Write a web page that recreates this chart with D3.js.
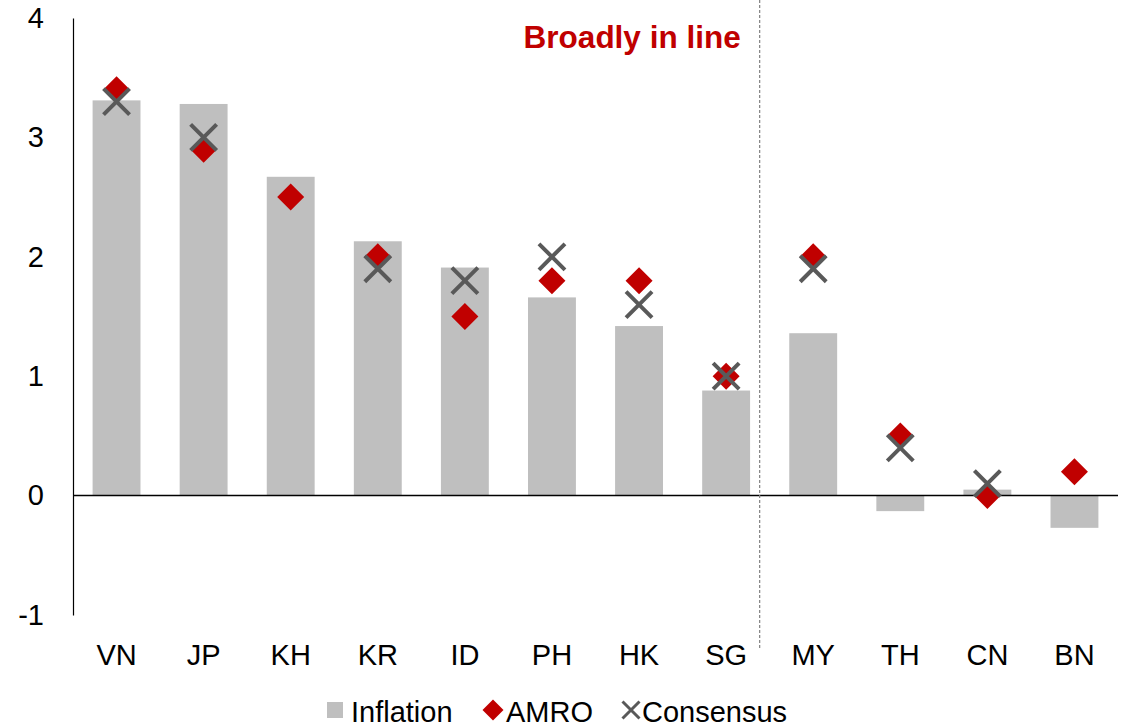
<!DOCTYPE html>
<html><head><meta charset="utf-8">
<script src="https://cdn.jsdelivr.net/npm/d3@7"></script>
<style>
html,body{margin:0;padding:0;background:#fff;}
svg{display:block;font-family:"Liberation Sans",Arial,sans-serif;}
</style></head>
<body><svg id="chart" width="1132" height="728"></svg>
<script>
const categories = ["VN","JP","KH","KR","ID","PH","HK","SG","MY","TH","CN","BN"];
const inflation  = [3.31, 3.28, 2.67, 2.13, 1.91, 1.66, 1.42, 0.88, 1.36, -0.13, 0.05, -0.27];
const amro       = [3.4, 2.9, 2.5, 2.0, 1.5, 1.8, 1.8, 1.0, 2.0, 0.5, 0.0, 0.2];
const consensus  = [3.3, 3.0, null, 1.9, 1.8, 2.0, 1.6, 1.0, 1.9, 0.4, 0.1, null];
const yTicks = [-1, 0, 1, 2, 3, 4];
const annotation = "Broadly in line";
const legendLabels = ["Inflation", "AMRO", "Consensus"];

const svg = d3.select("#chart");
const mLeft = 73, mRight = 1118, mTop = 18, mBottom = 615;
const x = d3.scaleBand().domain(categories).range([mLeft, mRight]).paddingInner(0.45).paddingOuter(0.225);
const y = d3.scaleLinear().domain([-1, 4]).range([mBottom, mTop]);

const grey = "#BFBFBF", red = "#C00000", dark = "#595959";

// bars
svg.append("g").selectAll("rect").data(categories).join("rect")
  .attr("x", d => x(d))
  .attr("width", x.bandwidth())
  .attr("y", (d,i) => y(Math.max(0, inflation[i])))
  .attr("height", (d,i) => Math.abs(y(inflation[i]) - y(0)))
  .attr("fill", grey);

// y axis
const yAxis = d3.axisLeft(y).tickValues(yTicks).tickSize(0).tickPadding(29).tickFormat(d => String(d));
const gy = svg.append("g").attr("transform", `translate(${mLeft},0)`).call(yAxis);
gy.select(".domain").attr("stroke", "#000").attr("stroke-width", 1.2);
gy.selectAll("text").attr("font-size", 29).attr("fill", "#000").attr("font-family", "Liberation Sans, Arial, sans-serif");

// zero line
svg.append("line").attr("x1", mLeft).attr("x2", mRight).attr("y1", y(0)).attr("y2", y(0))
  .attr("stroke", "#000").attr("stroke-width", 1.5);

// x axis labels
const xAxis = d3.axisBottom(x).tickSize(0).tickPadding(0);
const gx = svg.append("g").attr("transform", `translate(0,${mBottom})`).call(xAxis);
gx.select(".domain").remove();
gx.selectAll("text").attr("font-size", 29).attr("fill", "#000").attr("dy", null).attr("y", 50)
  .attr("font-family", "Liberation Sans, Arial, sans-serif");

// dashed separator between SG and MY
const sepX = x("MY") - (x.step() - x.bandwidth()) / 2 - 10;
svg.append("line").attr("x1", sepX).attr("x2", sepX).attr("y1", 0).attr("y2", 648)
  .attr("stroke", "#808080").attr("stroke-width", 1.2).attr("stroke-dasharray", "3,2");

// annotation
svg.append("text").attr("x", sepX - 19).attr("y", 48).attr("text-anchor", "end")
  .attr("font-size", 31.5).attr("font-weight", "bold").attr("fill", red).text(annotation);

const dsz = 13.5, xsz = 13;
const diamond = (cx, cy, s) => `M${cx},${cy-s}L${cx+s},${cy}L${cx},${cy+s}L${cx-s},${cy}Z`;
const cross = (cx, cy, s) => `M${cx-s},${cy-s}L${cx+s},${cy+s}M${cx-s},${cy+s}L${cx+s},${cy-s}`;

// AMRO diamonds
svg.append("g").selectAll("path").data(categories).join("path")
  .attr("d", (d,i) => diamond(x(d) + x.bandwidth()/2, y(amro[i]), dsz))
  .attr("fill", red);

// Consensus crosses
svg.append("g").selectAll("path").data(categories.filter((d,i) => consensus[i] !== null)).join("path")
  .attr("d", d => { const i = categories.indexOf(d); return cross(x(d) + x.bandwidth()/2, y(consensus[i]), xsz); })
  .attr("fill", "none").attr("stroke", dark).attr("stroke-width", 4);

// legend
const lg = svg.append("g").attr("font-size", 29).attr("fill", "#000");
const ly = 710;
lg.append("rect").attr("x", 327).attr("y", ly - 8).attr("width", 16).attr("height", 16).attr("fill", grey);
lg.append("text").attr("x", 351).attr("y", ly + 12).text(legendLabels[0]);
lg.append("path").attr("d", diamond(493, ly, 10.5)).attr("fill", red);
lg.append("text").attr("x", 506).attr("y", ly + 12).text(legendLabels[1]);
lg.append("path").attr("d", cross(631, ly, 8.5)).attr("stroke", dark).attr("stroke-width", 3).attr("fill", "none");
lg.append("text").attr("x", 642).attr("y", ly + 12).text(legendLabels[2]);
</script></body></html>
